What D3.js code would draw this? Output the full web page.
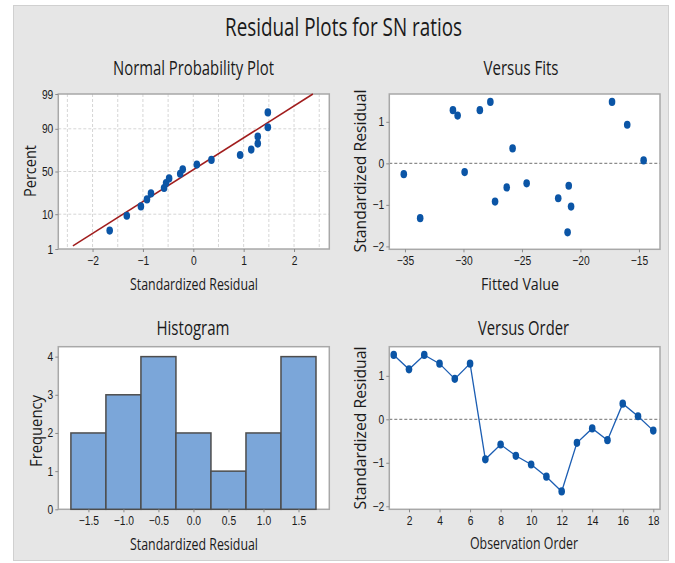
<!DOCTYPE html>
<html>
<head>
<meta charset="utf-8">
<title>Residual Plots for SN ratios</title>
<script src="https://cdn.jsdelivr.net/npm/d3@7"></script>
<style>
  body { margin: 0; background: #fff; }
  svg { display: block; font-family: "Open Sans", sans-serif; }
  .tick text { font-size: 12.5px; fill: #1a1a1a; }
  .title { fill: #1a1a1a; }
</style>
</head>
<body>
<svg id="chart" width="675" height="563"></svg>
<script>
// residuals, in observation order
const observations = [1, 2, 3, 4, 5, 6, 7, 8, 9, 10, 11, 12, 13, 14, 15, 16, 17, 18];
const residuals = [1.48, 1.15, 1.48, 1.28, 0.93, 1.28, -0.92, -0.58, -0.84, -1.04, -1.32, -1.66, -0.54, -0.21, -0.48, 0.36, 0.07, -0.26];
const fittedValues = [-27.7, -30.5, -17.3, -30.9, -16.0, -28.6, -27.3, -26.3, -21.9, -20.8, -33.7, -21.1, -21.0, -29.9, -24.6, -25.8, -14.6, -35.1];

// normal probability plot: percent for each sorted residual
const nppPercents = [3.8, 9.2, 14.7, 20.1, 25.5, 31.0, 36.4, 41.8, 47.3, 52.7, 58.2, 63.6, 69.0, 74.5, 79.9, 85.3, 90.8, 96.2];
const percentTicks = [1, 10, 50, 90, 99];
const nppXTicks = [-2, -1, 0, 1, 2];
const nppGridX = [-2.5, -2, -1.5, -1, -0.5, 0, 0.5, 1, 1.5, 2, 2.5];
const nppGridPercents = [10, 50, 90];
const lineMean = -0.057, lineSd = 1.045, lineXStart = -2.39;

// histogram
const binCenters = [-1.5, -1.0, -0.5, 0.0, 0.5, 1.0, 1.5];
const binCounts = [2, 3, 4, 2, 1, 2, 4];
const binWidth = 0.5;
const histYTicks = [0, 1, 2, 3, 4];

const fitsXTicks = [-35, -30, -25, -20, -15];
const residTicks = [-2, -1, 0, 1];
const orderTicks = [2, 4, 6, 8, 10, 12, 14, 16, 18];

// inverse normal CDF (Acklam)
function qnorm(p) {
  const a = [-39.69683028665376, 220.9460984245205, -275.9285104469687, 138.3577518672690, -30.66479806614716, 2.506628277459239];
  const b = [-54.47609879822406, 161.5858368580409, -155.6989798598866, 66.80131188771972, -13.28068155288572];
  const c = [-0.007784894002430293, -0.3223964580411365, -2.400758277161838, -2.549732539343734, 4.374664141464968, 2.938163982698783];
  const d = [0.007784695709041462, 0.3224671290700398, 2.445134137142996, 3.754408661907416];
  const pl = 0.02425;
  let q, r;
  if (p < pl) {
    q = Math.sqrt(-2 * Math.log(p));
    return (((((c[0]*q+c[1])*q+c[2])*q+c[3])*q+c[4])*q+c[5]) / ((((d[0]*q+d[1])*q+d[2])*q+d[3])*q+1);
  }
  if (p > 1 - pl) {
    q = Math.sqrt(-2 * Math.log(1 - p));
    return -(((((c[0]*q+c[1])*q+c[2])*q+c[3])*q+c[4])*q+c[5]) / ((((d[0]*q+d[1])*q+d[2])*q+d[3])*q+1);
  }
  q = p - 0.5; r = q * q;
  return (((((a[0]*r+a[1])*r+a[2])*r+a[3])*r+a[4])*r+a[5])*q / (((((b[0]*r+b[1])*r+b[2])*r+b[3])*r+b[4])*r+1);
}

const svg = d3.select("#chart");
const blue = "#0b55a6";
const intFmt = d3.format("d");

// outer gray panel
svg.append("rect")
  .attr("x", 13.5).attr("y", 5.5).attr("width", 655).attr("height", 555)
  .attr("fill", "#e6e6e6").attr("stroke", "#d0d0d0");

// plot areas
const P = {
  npp:   { x0: 58.3, x1: 329.3, y0: 94, y1: 249 },
  fits:  { x0: 389.3, x1: 660, y0: 94, y1: 249.3 },
  hist:  { x0: 58.3, x1: 329.3, y0: 346.7, y1: 509.3 },
  order: { x0: 389.3, x1: 660, y0: 346.7, y1: 509.3 }
};

function plotBg(p) {
  svg.append("rect").attr("x", p.x0).attr("y", p.y0)
    .attr("width", p.x1 - p.x0).attr("height", p.y1 - p.y0).attr("fill", "#fff");
}
function plotBorder(p) {
  svg.append("rect").attr("x", p.x0).attr("y", p.y0)
    .attr("width", p.x1 - p.x0).attr("height", p.y1 - p.y0)
    .attr("fill", "none").attr("stroke", "#a8a8a8").attr("stroke-width", 1.5);
}
function squeeze(sel, k) {
  sel.each(function() {
    const w = this.getComputedTextLength();
    this.setAttribute("textLength", w * k);
    this.setAttribute("lengthAdjust", "spacingAndGlyphs");
  });
}
function styleAxis(g) {
  g.select(".domain").remove();
  g.selectAll(".tick line").attr("stroke", "#8a8a8a");
  squeeze(g.selectAll(".tick text"), 0.82);
}
function text(str, x, y, size, len) {
  return svg.append("text").attr("class", "title")
    .attr("x", x).attr("y", y).attr("text-anchor", "middle")
    .attr("font-size", size).attr("textLength", len)
    .attr("lengthAdjust", "spacingAndGlyphs").text(str);
}
function vtext(str, cx, cy, size, len) {
  return svg.append("text").attr("class", "title")
    .attr("transform", `translate(${cx},${cy}) rotate(-90)`)
    .attr("dy", "0.35em").attr("text-anchor", "middle")
    .attr("font-size", size).attr("textLength", len)
    .attr("lengthAdjust", "spacingAndGlyphs").text(str);
}
function xAxis(p, scale, ticks, fmt) {
  const ax = d3.axisBottom(scale).tickValues(ticks).tickSize(3).tickPadding(4).tickFormat(fmt || intFmt);
  svg.append("g").attr("transform", `translate(0,${p.y1})`).call(ax).call(styleAxis);
}
function yAxis(p, scale, ticks, fmt) {
  const ax = d3.axisLeft(scale).tickValues(ticks).tickSize(3).tickPadding(2).tickFormat(fmt || intFmt);
  svg.append("g").attr("transform", `translate(${p.x0},0)`).call(ax).call(styleAxis);
}
function dots(xs, ys) {
  svg.append("g").selectAll("ellipse")
    .data(xs.map((v, i) => [v, ys[i]]))
    .join("ellipse")
    .attr("cx", d => d[0]).attr("cy", d => d[1])
    .attr("rx", 3.3).attr("ry", 4.1).attr("fill", blue);
}

text("Residual Plots for SN ratios", 343.5, 36, 25, 237);

// ---- Normal probability plot
{
  const p = P.npp;
  const x = d3.scaleLinear().domain([-2.68, 2.70]).range([p.x0, p.x1]);
  const y = d3.scaleLinear().domain([qnorm(0.01), qnorm(0.99)]).range([p.y1, p.y0]);
  plotBg(p);
  const grid = svg.append("g").attr("stroke", "#d6d6d6").attr("stroke-dasharray", "3,2");
  grid.selectAll(".gx").data(nppGridX).join("line")
    .attr("x1", d => x(d)).attr("x2", d => x(d)).attr("y1", p.y0).attr("y2", p.y1);
  grid.selectAll(".gy").data(nppGridPercents).join("line")
    .attr("x1", p.x0).attr("x2", p.x1)
    .attr("y1", d => y(qnorm(d / 100))).attr("y2", d => y(qnorm(d / 100)));
  plotBorder(p);
  const zTop = qnorm(0.99);
  const xEnd = lineMean + lineSd * zTop;
  svg.append("line")
    .attr("x1", x(lineXStart)).attr("y1", y((lineXStart - lineMean) / lineSd))
    .attr("x2", x(xEnd)).attr("y2", y(zTop))
    .attr("stroke", "#a11d1d").attr("stroke-width", 1.5);
  const sorted = d3.sort(residuals);
  dots(sorted.map(x), nppPercents.map(v => y(qnorm(v / 100))));
  xAxis(p, x, nppXTicks);
  yAxis(p, y, percentTicks.map(v => qnorm(v / 100)), (d, i) => percentTicks[i]);
  text("Normal Probability Plot", 193.5, 75, 19.5, 161);
  text("Standardized Residual", 194, 290, 16, 128);
  vtext("Percent", 30, 171, 16, 52);
}

// ---- Versus fits
{
  const p = P.fits;
  const x = d3.scaleLinear().domain([-36.34, -13.2]).range([p.x0, p.x1]);
  const y = d3.scaleLinear().domain([-2.07, 1.67]).range([p.y1, p.y0]);
  plotBg(p);
  svg.append("line").attr("x1", p.x0).attr("x2", p.x1).attr("y1", y(0)).attr("y2", y(0))
    .attr("stroke", "#8c8c8c").attr("stroke-dasharray", "3,2").attr("stroke-width", 1.2);
  plotBorder(p);
  dots(fittedValues.map(x), residuals.map(y));
  xAxis(p, x, fitsXTicks);
  yAxis(p, y, residTicks);
  text("Versus Fits", 521, 75, 19.5, 75);
  text("Fitted Value", 520, 290, 16, 78);
  vtext("Standardized Residual", 360.5, 171, 16, 163);
}

// ---- Histogram
{
  const p = P.hist;
  const x = d3.scaleLinear().domain([-1.93, 1.94]).range([p.x0, p.x1]);
  const y = d3.scaleLinear().domain([0, 4.26]).range([p.y1, p.y0]);
  plotBg(p);
  plotBorder(p);
  svg.append("g").selectAll("rect")
    .data(binCenters.map((c, i) => [c, binCounts[i]]))
    .join("rect")
    .attr("x", d => x(d[0] - binWidth / 2))
    .attr("width", d => x(d[0] + binWidth / 2) - x(d[0] - binWidth / 2))
    .attr("y", d => y(d[1]))
    .attr("height", d => y(0) - y(d[1]))
    .attr("fill", "#7ba6d9").attr("stroke", "#4d4d4d").attr("stroke-width", 1.5);
  xAxis(p, x, binCenters, d3.format(".1f"));
  yAxis(p, y, histYTicks);
  text("Histogram", 193, 335, 19.5, 73);
  text("Standardized Residual", 194, 550, 16, 128);
  vtext("Frequency", 36, 431, 16, 72);
}

// ---- Versus order
{
  const p = P.order;
  const x = d3.scaleLinear().domain([0.71, 18.44]).range([p.x0, p.x1]);
  const y = d3.scaleLinear().domain([-2.07, 1.67]).range([p.y1, p.y0]);
  plotBg(p);
  svg.append("line").attr("x1", p.x0).attr("x2", p.x1).attr("y1", y(0)).attr("y2", y(0))
    .attr("stroke", "#8c8c8c").attr("stroke-dasharray", "3,2").attr("stroke-width", 1.2);
  plotBorder(p);
  svg.append("path")
    .datum(observations.map((o, i) => [o, residuals[i]]))
    .attr("fill", "none").attr("stroke", "#1c5eb3").attr("stroke-width", 1.3)
    .attr("d", d3.line().x(d => x(d[0])).y(d => y(d[1])));
  dots(observations.map(x), residuals.map(y));
  xAxis(p, x, orderTicks);
  yAxis(p, y, residTicks);
  text("Versus Order", 523.5, 335, 19.5, 91);
  text("Observation Order", 524, 549, 16, 108);
  vtext("Standardized Residual", 360.5, 428, 16, 163);
}
</script>
</body>
</html>
